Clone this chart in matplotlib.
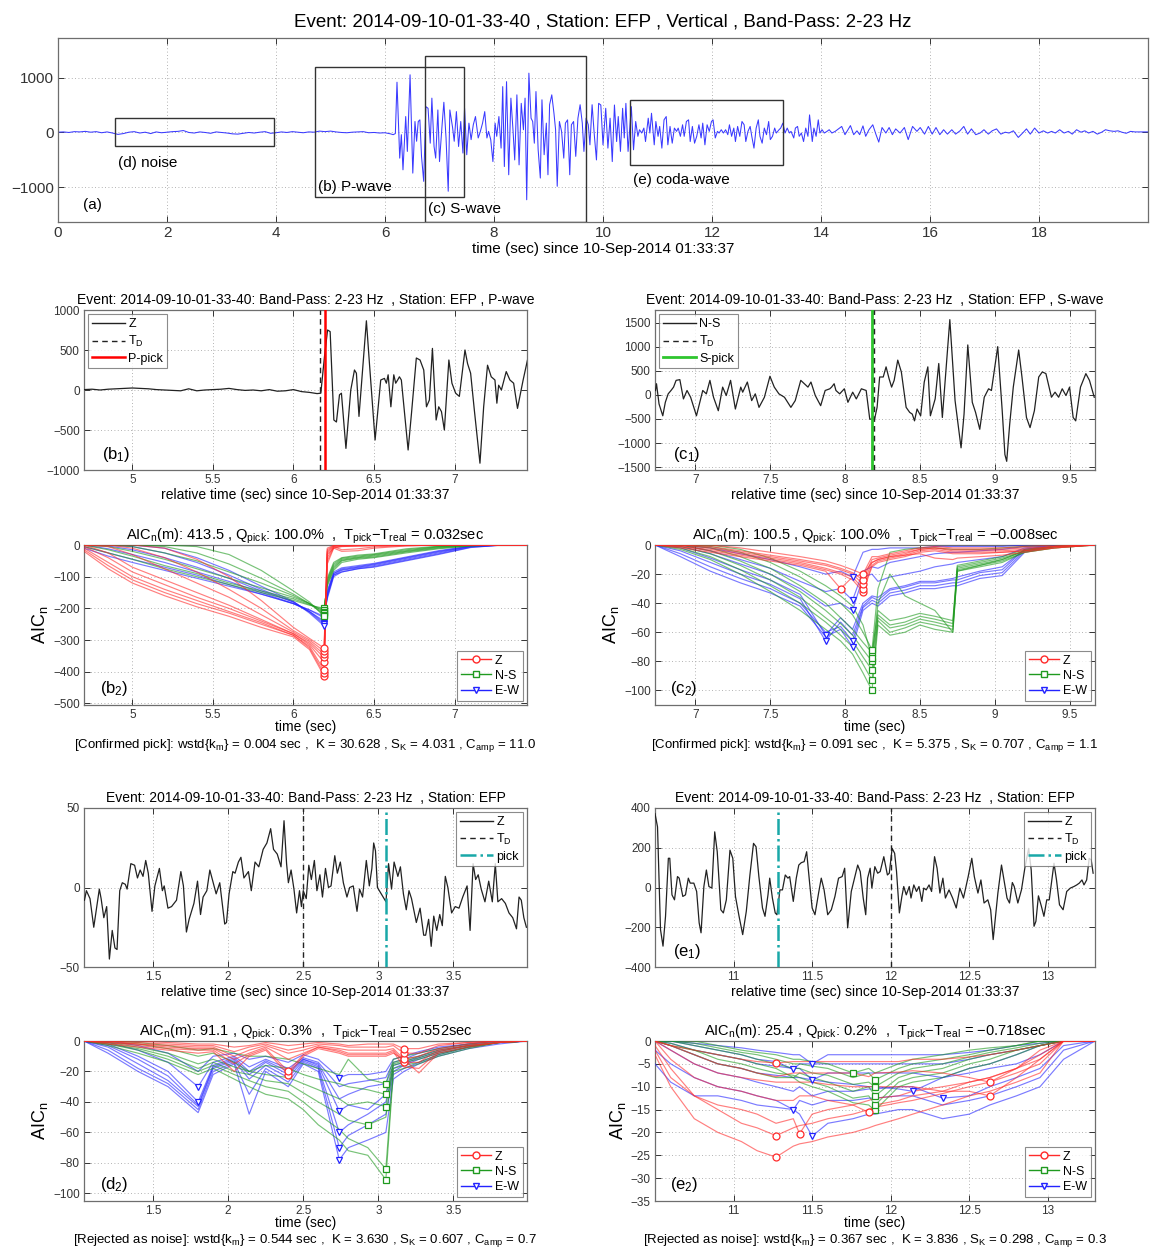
import numpy as np
import matplotlib
matplotlib.use('Agg')
import matplotlib.pyplot as plt
from matplotlib.lines import Line2D
from matplotlib.patches import Rectangle
from matplotlib.ticker import FuncFormatter

plt.rcParams['font.family'] = ['Liberation Sans', 'DejaVu Sans']
plt.rcParams['mathtext.fontset'] = 'custom'
plt.rcParams['mathtext.rm'] = 'Liberation Sans'
plt.rcParams['mathtext.it'] = 'Liberation Sans:italic'
plt.rcParams['mathtext.default'] = 'regular'

# ---------------- DATA ----------------
# Panel (a): full vertical record (time s, amplitude)
a_noise_t = [0.0, 0.1, 0.2, 0.3, 0.4, 0.5, 0.6, 0.7, 0.8, 0.9, 1.0, 1.1, 1.2, 1.3, 1.4, 1.5, 1.6, 1.7, 1.8, 1.9,
             2.0, 2.1, 2.2, 2.3, 2.4, 2.5, 2.6, 2.7, 2.8, 2.9, 3.0, 3.1, 3.2, 3.3, 3.4, 3.5, 3.6, 3.7, 3.8, 3.9,
             4.0, 4.1, 4.2, 4.3, 4.4, 4.5, 4.6, 4.7, 4.8, 4.9, 5.0, 5.1, 5.2, 5.3, 5.4, 5.5, 5.6, 5.7, 5.8, 5.9,
             6.0, 6.1, 6.15, 6.19]
a_noise_v = [5, 10, 0, 15, 10, 20, 5, 15, -5, 10, -10, -35, -20, 5, 15, -10, 5, -20, 10, -5,
             5, 15, 20, 35, 0, -10, 10, 0, -15, 10, 0, -10, -25, -30, -15, 0, -10, 5, 15, -15,
             -5, 10, 0, 15, 5, -5, 10, 5, 25, 15, 25, 10, 0, -5, 5, 10, 15, -5, 0, -10,
             -5, -25, -40, -20]
a_sig_t = [6.22, 6.27, 6.30, 6.33, 6.38, 6.41, 6.46, 6.51, 6.55, 6.58, 6.61, 6.64, 6.67, 6.71, 6.75, 6.79, 6.83,
           6.86, 6.90, 6.93, 6.97, 7.00, 7.05, 7.08, 7.12, 7.16, 7.19, 7.24, 7.27, 7.31, 7.35, 7.39, 7.43, 7.46,
           7.50, 7.54, 7.58, 7.62, 7.66, 7.71, 7.75, 7.79, 7.83, 7.87, 7.90, 7.94, 7.98, 8.02, 8.05, 8.09, 8.13,
           8.16, 8.19, 8.23, 8.27, 8.31, 8.35, 8.38, 8.42, 8.46, 8.50, 8.54, 8.57, 8.60, 8.64, 8.68, 8.71, 8.74,
           8.77, 8.81, 8.85, 8.88, 8.92, 8.96, 8.99, 9.02, 9.06, 9.10, 9.13, 9.16, 9.20, 9.24, 9.28, 9.31, 9.35,
           9.39, 9.42, 9.46, 9.50, 9.54, 9.58, 9.62, 9.65, 9.69, 9.73, 9.76, 9.80, 9.84, 9.88, 9.92,
           9.96, 10.0, 10.05, 10.09, 10.13, 10.17, 10.21, 10.25, 10.28, 10.32, 10.36, 10.39, 10.42, 10.46, 10.52,
           10.56, 10.60, 10.64, 10.67, 10.71, 10.75, 10.78, 10.83, 10.86, 10.89, 10.94, 10.97, 11.01, 11.04, 11.08,
           11.12, 11.16, 11.19, 11.23, 11.27, 11.31, 11.35, 11.38, 11.42, 11.46, 11.49, 11.53, 11.57, 11.60, 11.64,
           11.68, 11.72, 11.76, 11.80, 11.83, 11.87, 11.91, 11.95, 11.99, 12.02, 12.06, 12.10, 12.13, 12.17, 12.21,
           12.25, 12.29, 12.32, 12.36, 12.40, 12.43, 12.47, 12.51, 12.55, 12.59, 12.62, 12.66, 12.70, 12.73, 12.77,
           12.81, 12.85, 12.88, 12.92, 12.96, 13.0, 13.04, 13.07, 13.11, 13.15, 13.18, 13.23, 13.26, 13.30, 13.34,
           13.38, 13.42, 13.45, 13.50, 13.53, 13.57, 13.60, 13.64, 13.68, 13.72, 13.76, 13.79, 13.84, 13.87, 13.91,
           13.95, 13.98, 14.02, 14.06, 14.11, 14.15, 14.20, 14.26,
           14.38, 14.44, 14.54, 14.60, 14.66, 14.71, 14.77, 14.82, 14.88, 14.95, 15.01, 15.06, 15.12, 15.19, 15.25,
           15.31, 15.37, 15.45, 15.53, 15.60, 15.68, 15.76, 15.82, 15.90, 15.97, 16.04, 16.11, 16.18, 16.25, 16.32,
           16.40, 16.47, 16.55, 16.62, 16.69, 16.76, 16.84, 16.92, 16.99, 17.07, 17.14, 17.22, 17.30, 17.38, 17.45,
           17.53, 17.62, 17.70, 17.77, 17.84, 17.92, 18.0, 18.08, 18.16, 18.23, 18.30, 18.38, 18.46, 18.54, 18.61,
           18.69, 18.77, 18.84, 18.91, 18.99, 19.07, 19.15, 19.22, 19.30, 19.38, 19.45, 19.52, 19.60, 19.68, 19.76,
           19.94, 20.0]
a_sig_v = [915, -467, -40, -680, 290, -345, 1050, -740, 200, -160, 200, 230, -435, -890, 470, 440, -195,
           625, -255, -467, 410, -530, 170, 550, -100, -1070, 410, 90, -160, 380, -255, 200, -375, 440,
           -405, 170, -130, 140, 290, -100, 20, 170, 380, -100, 20, -130, -530, 170, -70, 290, -285,
           835, -620, 925, -770, 625, 20, -500, 685, -590, 530, 50, 625, -1225, 1080, 260, 200, -195,
           745, -315, -830, 595, -405, 170, -770, 505, 685, 350, 50, -980, 200, 20, -467, 170, 230,
           -770, 140, 200, -435, 260, 505, 170, -345, 260, 140, -225, 505, -40, -500, 530,
           500, -225, 440, -285, 260, -530, 500, -165, 290, -345, 440, -100, 530, -345, 470,
           -315, 200, -70, 50, -10, 80, -165, 260, -10, 350, -225, 200, -70, 110, -285,
           230, 290, -225, 110, -195, 80, 20, 80, -70, 140, -70, 200, 230, -165, 110,
           -195, -70, 140, -100, 170, -225, 140, 20, 200, 230, -100, 20, -10, 50, -10,
           50, -40, 140, -70, 80, -165, 110, -70, 200, 140, -165, 20, 110, -70, -285,
           80, 230, -70, -195, 80, -40, 200, -130, -70, 80, -10, 50, 80, 170, -10,
           80, -10, 20, -100, 80, 110, -70, -10, -165, 80, -70, 320, -165, 80, -70,
           230, -10, 50, -10, 20, 50, -10, 20,
           110, -40, 125, -40, 30, -40, 120, -70, 50, 140, -40, -175, 90, -10, 90,
           -40, 65, -10, 90, -130, 110, 20, 90, -30, 110, -30, 90, -40, 50, -30,
           50, -30, 30, 110, -30, 65, -40, -10, 50, -30, 30, 65, -30, 5, -10,
           30, -90, -10, 65, -30, 80, -10, 30, -10, 20, -10, 50, -10, 20, -30,
           50, 5, 30, -10, 20, -30, 5, 50, 30, 20, 30, 5, -15, 20, 10,
           10, 10]

# Windows marked on panel (a): (start, end, low, high)
win_noise = (1.05, 3.97, -250, 260)
win_p = (4.72, 7.45, -1170, 1185)
win_s = (6.73, 9.68, -1630, 1400)
win_coda = (10.5, 13.3, -600, 600)

# (b1) Z component around the P onset
b1_t = [4.70, 4.75, 4.80, 4.85, 4.90, 4.95, 5.00, 5.05, 5.10, 5.15, 5.20, 5.25, 5.30, 5.35, 5.40, 5.45, 5.50,
        5.55, 5.60, 5.65, 5.70, 5.75, 5.80, 5.85, 5.90, 5.95, 6.00, 6.05, 6.10, 6.147, 6.170,
        6.193, 6.212, 6.228, 6.251, 6.267, 6.286, 6.298, 6.326, 6.356, 6.379, 6.391, 6.407, 6.453, 6.472,
        6.507, 6.542, 6.565, 6.577, 6.588, 6.605, 6.623, 6.635, 6.647, 6.658, 6.670, 6.712, 6.733, 6.763,
        6.786, 6.809, 6.826, 6.844, 6.863, 6.886, 6.902, 6.919, 6.937, 6.965, 6.984, 7.007, 7.030, 7.065,
        7.081, 7.100, 7.123, 7.158, 7.181, 7.205, 7.228, 7.251, 7.263, 7.274, 7.291, 7.321, 7.344, 7.367,
        7.391, 7.426, 7.453]
b1_v = [5, 10, 0, 10, 15, 20, 25, 20, 15, 5, 0, -5, -10, 15, -10, 0, 5,
        10, 20, 5, -5, 0, -10, 5, -15, -10, 5, -20, -30, -45, -40,
        420, 750, 730, -375, -400, -60, -40, -730, 0, 250, 210, -330, 865, 330,
        -625, 125, 145, 85, 190, -210, 190, 85, 125, 165, 125, -750, -290, 400,
        375, 250, -210, -125, 520, -375, -210, -270, -500, 375, 85, -40, -80, 500,
        330, 210, -250, -915, -210, 310, 165, 125, -165, 60, 0, 230, 125, 85,
        -230, 125, 375]
b1_td, b1_pick = 6.165, 6.195

# (c1) N-S component around the S onset
c1_t = [6.733, 6.740, 6.757, 6.782, 6.799, 6.818, 6.837, 6.854, 6.871, 6.896, 6.920, 6.944, 6.968, 7.007,
        7.049, 7.073, 7.097, 7.121, 7.153, 7.182, 7.206, 7.235, 7.267, 7.303, 7.316, 7.347, 7.376, 7.400,
        7.425, 7.461, 7.498, 7.527, 7.558, 7.595, 7.638, 7.667, 7.704, 7.728, 7.752, 7.772, 7.801, 7.837,
        7.867, 7.898, 7.910, 7.927, 7.939, 7.964, 7.995, 8.019, 8.051, 8.075, 8.109, 8.141, 8.165, 8.197,
        8.214, 8.231, 8.255, 8.274, 8.294, 8.311, 8.328, 8.352, 8.376, 8.408, 8.432, 8.449, 8.464, 8.481,
        8.505, 8.529, 8.553, 8.570, 8.602, 8.626, 8.650, 8.700, 8.735, 8.775, 8.795, 8.820, 8.850, 8.872,
        8.900, 8.930, 8.959, 8.978, 9.020, 9.050, 9.068, 9.080, 9.100, 9.124, 9.160, 9.182, 9.212, 9.236,
        9.265, 9.294, 9.318, 9.342, 9.379, 9.403, 9.427, 9.451, 9.476, 9.500, 9.524, 9.541, 9.573, 9.609,
        9.633, 9.665]
c1_v = [90, 230, -190, -435, -155, 20, 90, 160, 300, 315, -85, 90, -50, -435,
        90, 20, 300, -50, -330, 160, -15, 300, -295, 160, 55, 265, -120, 20,
        -260, -50, 385, 160, 20, -50, -260, -120, 300, 230, 160, 265, -15, -225,
        90, 125, 160, 230, 90, 20, 125, -155, 55, -85, 125, 90, -505, -505,
        -260, 370, 370, 580, 335, 160, 300, 720, 475, -260, -365, -400, -540, -295,
        -435, 265, 580, -435, -85, 650, -470, 1560, -120, -1100, -400, 1035, -155, -365,
        -715, -50, 125, 90, 1000, -330, -1240, -1380, -610, 160, 930, 370, -470, -680,
        -330, 370, 475, 440, -50, 55, -50, 125, -15, 160, -470, -540, 160, 440,
        300, -50]
c1_td, c1_pick = 8.19, 8.18

# (d1) Z component, noise window
d1_t = [1.043, 1.056, 1.080, 1.105, 1.122, 1.142, 1.154, 1.172, 1.191, 1.209, 1.228, 1.246, 1.260, 1.278,
        1.295, 1.315, 1.327, 1.352, 1.377, 1.396, 1.414, 1.433, 1.451, 1.468, 1.493, 1.512, 1.542, 1.562,
        1.574, 1.599, 1.623, 1.656, 1.685, 1.702, 1.722, 1.740, 1.772, 1.796, 1.816, 1.833, 1.858, 1.878,
        1.895, 1.920, 1.944, 1.977, 1.989, 2.006, 2.031, 2.046, 2.068, 2.085, 2.105, 2.135, 2.154, 2.179,
        2.204, 2.233, 2.258, 2.283, 2.302, 2.327, 2.352, 2.372, 2.389, 2.401, 2.419, 2.438, 2.456, 2.475,
        2.488, 2.500, 2.520, 2.537, 2.554, 2.574, 2.591, 2.611, 2.628, 2.648, 2.668, 2.685, 2.710, 2.727,
        2.747, 2.767, 2.791, 2.809, 2.833, 2.858, 2.875, 2.895, 2.920, 2.940, 2.957, 2.969, 2.981, 2.994,
        3.019, 3.051, 3.068, 3.088, 3.105, 3.130, 3.147, 3.167, 3.186, 3.204, 3.221, 3.253, 3.278, 3.302,
        3.315, 3.335, 3.352, 3.369, 3.389, 3.409, 3.426, 3.446, 3.463, 3.488, 3.512, 3.537, 3.562, 3.591,
        3.611, 3.631, 3.648, 3.665, 3.685, 3.710, 3.735, 3.759, 3.779, 3.796, 3.821, 3.846, 3.870, 3.895,
        3.920, 3.937, 3.952, 3.969, 3.986]
d1_v = [-8, -2, -7, -25, -14, -1, -7, -19, -12, -45, -27, -38, -39, -2,
        3, 2, -1, 15, 14, 6, 11, 7, 17, 9, -15, 1, 12, -2,
        1, -13, -12, -8, 10, 1, -28, -20, -10, 4, -17, -6, -2, 11,
        5, -4, 3, -23, -22, -4, 10, 9, 16, 19, 6, 10, -2, 16,
        13, 24, 28, 37, 24, 21, 13, 42, 15, 3, 11, -1, -16, -2,
        -12, -2, -7, 14, 5, 17, -2, 8, -6, 12, 0, 1, 20, 9,
        16, 3, -6, 0, 1, -15, -1, -6, 17, 1, 12, 28, 23, 0,
        -4, -9, 15, -1, 16, 7, 13, -4, -14, -2, -7, -22, -13, -30,
        -30, -20, -37, -18, -27, -17, -24, 7, 0, -16, -12, -13, -6, 1,
        -27, 15, 5, 8, -1, -9, 4, -9, 15, -9, -7, -10, -16, -19,
        -26, -6, -8, -19, -25]
d1_td, d1_pick = 2.5, 3.05

# (e1) Z component, coda window
e1_t = [10.500, 10.516, 10.535, 10.551, 10.567, 10.585, 10.594, 10.608, 10.624, 10.643, 10.654, 10.677,
        10.694, 10.712, 10.724, 10.747, 10.765, 10.781, 10.793, 10.811, 10.827, 10.843, 10.862, 10.880,
        10.896, 10.919, 10.935, 10.954, 10.977, 10.995, 11.012, 11.035, 11.058, 11.081, 11.104, 11.127,
        11.143, 11.161, 11.184, 11.200, 11.219, 11.230, 11.247, 11.265, 11.276, 11.295, 11.311, 11.329,
        11.346, 11.357, 11.380, 11.399, 11.415, 11.431, 11.449, 11.465, 11.484, 11.500, 11.518, 11.541,
        11.558, 11.576, 11.599, 11.622, 11.645, 11.668, 11.691, 11.707, 11.726, 11.749, 11.772, 11.790,
        11.806, 11.825, 11.841, 11.853, 11.869, 11.880, 11.899, 11.917, 11.933, 11.956, 11.979, 11.991,
        12.009, 12.025, 12.037, 12.055, 12.071, 12.083, 12.099, 12.118, 12.129, 12.147, 12.164, 12.180,
        12.198, 12.210, 12.226, 12.244, 12.260, 12.279, 12.295, 12.313, 12.332, 12.348, 12.371, 12.394,
        12.417, 12.440, 12.463, 12.493, 12.516, 12.532, 12.555, 12.574, 12.594, 12.618, 12.636, 12.652,
        12.671, 12.682, 12.705, 12.721, 12.740, 12.756, 12.774, 12.786, 12.809, 12.832, 12.855, 12.878,
        12.894, 12.912, 12.924, 12.940, 12.959, 12.975, 12.993, 13.009, 13.039, 13.055, 13.074, 13.097,
        13.120, 13.143, 13.166, 13.184, 13.200, 13.217, 13.230, 13.247, 13.263, 13.276, 13.288]
e1_v = [372, 305, -212, -295, -145, 147, 147, -37, -62, 55, 47, -45,
        -37, 47, 22, 22, -20, -178, -228, 5, 88, 5, -3, 280,
        180, -112, -128, -62, 188, 147, -45, -145, -237, -120, 63, 222,
        205, 55, -103, -145, -37, 47, -53, -128, -137, -12, -12, 63,
        47, 55, -70, 47, 113, 125, 130, 180, 22, -103, -137, -28,
        47, -12, -137, -112, -45, 47, 55, 97, -203, -20, 55, 113,
        80, -53, -137, 47, 97, -3, 105, 72, 80, 155, 63, 72,
        197, 172, 80, -128, -45, 5, -37, 5, -53, 13, -20, 5,
        -70, -3, -12, 13, -20, 155, 97, -28, 47, -53, -12, -53,
        -103, -3, -53, 55, 147, 55, -28, 38, -78, -62, -112, -262,
        -112, -28, 113, 38, -53, -78, 25, 5, -78, -12, 105, 197,
        88, -195, -170, -42, -95, -145, -62, -62, 122, 38, -87, -112,
        -20, -3, 5, 13, 22, 38, 13, 38, 147, 138, 72]
e1_pick, e1_td = 11.28, 12.0

# AIC_n curves (time knots shared per panel; one list per curve)
b2_t = [4.70, 4.85, 5.0, 5.2, 5.4, 5.6, 5.8, 6.0, 6.1, 6.19, 6.21, 6.25, 6.3, 6.4, 6.5, 6.7, 6.9, 7.1, 7.3, 7.45]
b2_Z = [[-20, -75, -120, -160, -195, -225, -260, -290, -330, -413, -60, -10, -5, -3, -2, -1, 0, 0, 0, 0],
        [-15, -65, -110, -150, -185, -215, -250, -285, -325, -405, -50, -8, -4, -3, -2, -1, 0, 0, 0, 0],
        [-10, -55, -100, -140, -175, -210, -245, -285, -320, -395, -40, -5, -3, -2, -1, 0, 0, 0, 0, 0],
        [-5, -40, -85, -125, -165, -200, -240, -280, -315, -370, -30, -10, -20, -18, -10, -3, 0, 0, 0, 0],
        [0, -25, -70, -110, -150, -190, -235, -280, -310, -355, -25, -5, -15, -12, -6, -2, 0, 0, 0, 0],
        [0, -5, -30, -75, -120, -165, -220, -275, -305, -345, -20, -3, -2, -1, 0, 0, 0, 0, 0, 0],
        [0, 0, -10, -40, -85, -140, -200, -270, -300, -335, -15, -2, -1, 0, 0, 0, 0, 0, 0, 0],
        [0, 0, 0, -10, -45, -100, -175, -260, -295, -325, -10, -1, 0, 0, 0, 0, 0, 0, 0, 0]]
b2_NS = [[-5, -25, -45, -75, -100, -125, -150, -175, -190, -200, -130, -80, -55, -45, -40, -25, -12, -3, 0, 0],
         [0, -15, -35, -65, -90, -120, -145, -170, -188, -205, -125, -75, -50, -42, -38, -22, -10, -2, 0, 0],
         [0, -5, -20, -45, -75, -105, -135, -165, -185, -210, -120, -70, -48, -40, -35, -20, -8, -2, 0, 0],
         [0, 0, -5, -25, -50, -85, -120, -160, -185, -215, -115, -65, -45, -38, -32, -18, -6, -1, 0, 0],
         [0, 0, 0, -5, -25, -60, -105, -155, -185, -220, -110, -60, -42, -35, -30, -15, -5, -1, 0, 0],
         [0, 0, 0, 0, -5, -30, -80, -145, -180, -225, -105, -55, -40, -32, -28, -12, -4, 0, 0, 0]]
b2_EW = [[-10, -35, -55, -80, -105, -130, -155, -185, -205, -225, -170, -100, -85, -75, -70, -50, -30, -8, 0, 0],
         [-5, -25, -45, -70, -95, -125, -155, -185, -205, -230, -165, -95, -85, -75, -68, -48, -28, -7, 0, 0],
         [0, -12, -30, -55, -85, -115, -150, -185, -210, -240, -160, -95, -80, -72, -65, -45, -25, -5, 0, 0],
         [0, -3, -15, -40, -70, -105, -145, -180, -210, -245, -155, -90, -78, -70, -62, -42, -22, -5, 0, 0],
         [0, 0, -5, -25, -55, -95, -140, -180, -212, -250, -150, -90, -75, -68, -60, -40, -20, -4, 0, 0],
         [0, 0, 0, -10, -40, -80, -130, -178, -215, -255, -145, -85, -72, -65, -58, -38, -18, -3, 0, 0]]

c2_t = [6.73, 6.9, 7.1, 7.3, 7.5, 7.7, 7.87, 7.97, 8.05, 8.12, 8.18, 8.22, 8.3, 8.4, 8.5, 8.6, 8.72, 8.75,
        8.9, 9.05, 9.2, 9.4, 9.67]
c2_Z = [[0, -2, -5, -8, -11, -14, -18, -30, -22, -20, -12, -10, -8, -7, -6, -9, -10, -9, -8, -7, -5, -2, 0],
        [0, -1, -4, -7, -10, -13, -17, -20, -24, -32, -15, -12, -10, -8, -5, -4, -6, -6, -6, -5, -4, -2, 0],
        [0, -1, -3, -6, -9, -12, -16, -19, -22, -30, -14, -11, -9, -7, -4, -3, -5, -5, -5, -5, -4, -1, 0],
        [0, 0, -2, -5, -8, -11, -14, -17, -20, -27, -12, -10, -8, -6, -3, -2, -4, -4, -4, -4, -3, -1, 0],
        [0, 0, -1, -4, -7, -10, -13, -16, -19, -24, -10, -9, -7, -5, -3, -2, -3, -3, -3, -3, -2, -1, 0],
        [0, 0, 0, -2, -5, -8, -11, -14, -17, -20, -8, -8, -6, -4, -2, -1, -2, -2, -2, -2, -1, 0, 0]]
c2_NS = [[0, -3, -10, -20, -32, -45, -58, -66, -75, -88, -100, -55, -62, -60, -55, -58, -60, -18, -15, -12, -5, -2, 0],
         [0, -2, -8, -17, -28, -40, -53, -62, -70, -82, -93, -52, -60, -57, -53, -55, -58, -17, -14, -11, -5, -2, 0],
         [0, -1, -6, -14, -24, -36, -50, -58, -66, -77, -86, -50, -57, -55, -51, -53, -56, -16, -13, -10, -4, -1, 0],
         [0, 0, -4, -11, -20, -32, -45, -54, -62, -72, -80, -48, -55, -53, -49, -51, -54, -15, -12, -9, -4, -1, 0],
         [0, 0, -2, -8, -16, -28, -40, -50, -58, -67, -74, -45, -52, -50, -47, -49, -52, -14, -11, -8, -3, -1, 0],
         [0, 0, -1, -5, -12, -22, -33, -40, -48, -60, -72, -30, -5, -3, -2, -2, -3, -3, -3, -2, -1, 0, 0],
         [0, 0, 0, -3, -9, -18, -28, -35, -42, -55, -78, -40, -20, -35, -40, -45, -60, -18, -14, -10, -4, -1, 0]]
c2_EW = [[0, -8, -18, -26, -33, -42, -63, -58, -70, -45, -40, -42, -35, -33, -30, -30, -28, -28, -23, -21, -5, -1, 0],
         [0, -6, -15, -23, -30, -40, -60, -56, -66, -43, -38, -40, -33, -31, -28, -28, -26, -26, -21, -19, -4, -1, 0],
         [0, -4, -12, -20, -27, -37, -66, -53, -62, -42, -36, -38, -31, -29, -26, -26, -24, -24, -19, -17, -3, -1, 0],
         [0, -2, -9, -17, -24, -34, -62, -50, -58, -40, -35, -36, -30, -28, -25, -25, -23, -22, -18, -15, -3, 0, 0],
         [0, -1, -6, -13, -20, -30, -42, -40, -45, -22, -20, -25, -22, -20, -18, -15, -13, -12, -10, -8, -2, 0, 0],
         [0, 0, -4, -10, -16, -25, -32, -30, -38, -18, -15, -16, -12, -10, -8, -6, -5, -5, -4, -3, -1, 0, 0],
         [0, 0, -2, -6, -10, -15, -20, -18, -22, -5, -3, -3, -2, -2, -2, -1, -1, -1, -1, -1, 0, 0, 0]]

d2_t = [1.04, 1.2, 1.4, 1.6, 1.8, 1.9, 2.04, 2.14, 2.25, 2.4, 2.5, 2.6, 2.74, 2.8, 2.93, 3.05, 3.1, 3.17, 3.27,
        3.4, 3.6, 3.8, 3.99]
d2_Z = [[0, -2, -4, -6, -8, -7, -20, -10, -6, -22, -10, -5, -8, -10, -10, -10, -8, -12, -21, -8, -4, -1, 0],
        [0, -1, -3, -5, -6, -6, -15, -9, -5, -20, -9, -4, -7, -9, -9, -9, -7, -17, -18, -7, -3, -1, 0],
        [0, -1, -2, -4, -5, -5, -12, -8, -4, -12, -8, -4, -6, -8, -8, -8, -6, -14, -14, -6, -3, -1, 0],
        [0, 0, -2, -3, -4, -4, -10, -6, -3, -8, -6, -3, -5, -6, -6, -6, -5, -12, -10, -5, -2, 0, 0],
        [0, 0, -1, -2, -3, -3, -7, -4, -2, -6, -4, -2, -3, -4, -4, -4, -3, -8, -8, -3, -1, 0, 0],
        [0, 0, 0, -1, -2, -2, -4, -3, -1, -3, -2, -1, -2, -3, -2, -2, -2, -5, -5, -2, -1, 0, 0]]
d2_NS = [[0, -3, -8, -14, -22, -18, -25, -30, -35, -38, -45, -55, -65, -72, -75, -91, -20, -18, -15, -10, -5, -1, 0],
         [0, -2, -6, -12, -20, -16, -22, -26, -30, -33, -40, -48, -58, -64, -70, -84, -18, -16, -14, -9, -4, -1, 0],
         [0, -2, -5, -10, -18, -14, -20, -22, -26, -28, -34, -40, -48, -52, -55, -50, -16, -14, -12, -8, -4, -1, 0],
         [0, -1, -4, -8, -15, -12, -17, -20, -22, -24, -28, -32, -38, -42, -40, -43, -15, -13, -11, -7, -3, -1, 0],
         [0, -1, -2, -5, -10, -8, -14, -20, -16, -18, -22, -25, -28, -30, -32, -35, -14, -12, -10, -6, -3, -1, 0],
         [0, 0, -1, -3, -6, -5, -8, -10, -10, -12, -15, -18, -22, -12, -25, -28, -12, -10, -8, -5, -2, 0, 0]]
d2_EW = [[0, -8, -20, -30, -47, -22, -15, -48, -20, -30, -15, -20, -78, -70, -65, -60, -25, -20, -15, -10, -5, -2, 0],
         [0, -6, -18, -28, -45, -20, -14, -35, -18, -27, -14, -18, -70, -62, -55, -48, -22, -18, -14, -9, -4, -1, 0],
         [0, -4, -15, -26, -43, -18, -13, -25, -16, -24, -13, -17, -60, -55, -48, -40, -20, -16, -12, -8, -4, -1, 0],
         [0, -3, -12, -23, -42, -17, -12, -22, -14, -22, -12, -16, -46, -42, -45, -35, -18, -15, -11, -7, -3, -1, 0],
         [0, -2, -10, -20, -40, -16, -11, -20, -13, -20, -12, -15, -38, -35, -30, -28, -16, -14, -10, -6, -3, -1, 0],
         [0, -1, -6, -14, -30, -14, -10, -17, -12, -18, -11, -14, -30, -28, -26, -24, -14, -12, -8, -5, -2, 0, 0],
         [0, 0, -3, -8, -20, -10, -8, -12, -10, -14, -9, -12, -24, -22, -22, -20, -12, -10, -7, -4, -2, 0, 0]]

e2_t = [10.5, 10.6, 10.75, 10.9, 11.05, 11.15, 11.27, 11.38, 11.42, 11.5, 11.6, 11.76, 11.86, 11.9, 12.05,
        12.14, 12.33, 12.5, 12.63, 12.8, 12.95, 13.1, 13.3]
e2_Z = [[-3, -10, -17, -20, -22, -24, -25.4, -23, -22.5, -22, -21, -20, -19, -18.5, -17, -16, -14, -12, -11, -9, -7, 0, 0],
        [-2, -8, -12, -15, -18, -19, -20.7, -19, -18.5, -18, -17, -16, -15, -14.5, -13.5, -13, -11.5, -10, -9, -7, -5, 0, 0],
        [-1, -6, -12, -14, -15, -16, -18, -17, -20.3, -16, -15, -14, -13, -12.5, -12, -11, -10, -9, -8, -6, -4, 0, 0],
        [0, -4, -8, -10, -11, -12, -13, -13, -12, -12, -13, -14, -15.6, -14, -13, -12, -11, -9, -8, -6, -3, 0, 0],
        [0, -2, -5, -7, -8, -8.5, -9, -9, -9, -9, -9.5, -10, -10, -10, -10, -10, -11, -11, -12, -8, -4, 0, 0],
        [0, -1, -3, -5, -6, -7, -7.8, -7, -7, -7, -7, -7, -7.8, -7, -6.8, -6.5, -7, -8, -9, -6, -2, 0, 0],
        [0, -1, -2, -3, -4, -4.5, -4.8, -4.5, -4.5, -4.5, -4.5, -4.5, -4.5, -4.5, -4.5, -4, -4, -3.5, -3, -2, -1, 0, 0]]
e2_NS = [[0, -1, -3, -5, -6, -7, -8, -8, -9, -10, -11, -13.5, -14, -15.2, -10, -9, -8, -6, -5, -3, -1, 0, 0],
         [0, -1, -2, -4, -5, -6, -7, -7.5, -8, -9, -10, -12.5, -12, -14, -9, -8, -7, -5, -4, -2, -1, 0, 0],
         [0, -0.5, -2, -3, -4, -5, -6, -8, -7, -8, -9, -11, -10, -12, -8, -7, -6, -4, -3, -2, -1, 0, 0],
         [0, 0, -1, -2, -3, -4, -5, -6, -6, -7, -7.5, -9.5, -9, -10, -7, -6, -5, -3.5, -2.5, -1.5, -0.5, 0, 0],
         [0, 0, -0.5, -1.5, -2.5, -3, -4, -5, -5, -5.5, -6, -8, -7, -8.5, -6, -5, -4, -3, -2, -1, 0, 0, 0],
         [0, 0, 0, -1, -2, -2.5, -3, -4, -4, -4.5, -5, -7, -6, -7, -5, -4, -3, -2, -1.5, -1, 0, 0, 0]]
e2_EW = [[-5, -9, -12, -12, -13, -14, -14.5, -15, -16, -20.8, -18, -17, -16, -16, -15, -15, -17, -16, -14, -12, -10, -4, 0],
         [-2, -5, -8, -10, -11, -12, -13, -15, -13, -14, -13, -13, -12.5, -12.5, -12, -12, -14, -13, -12, -10, -8, -2, 0],
         [0, -2, -5, -7, -8, -9, -10, -11, -10, -12, -11, -11, -10.5, -10.5, -10, -10, -12.5, -12, -10, -8, -6, -1, 0],
         [0, -1, -3, -5, -6, -7, -7.5, -8, -8, -8.5, -9, -9.5, -10, -10, -10.5, -11, -8, -7, -6, -5, -3, 0, 0],
         [0, -0.5, -2, -3, -4, -5, -5.5, -6, -6, -8.5, -7, -7, -7, -7, -7, -7, -8, -6, -5, -3, -1, 0, 0],
         [0, 0, -1, -2, -3, -4, -4.5, -6.2, -5, -5, -5, -5, -5, -5, -5, -5, -5, -4, -3, -2, -1, 0, 0],
         [0, 0, -0.5, -1, -1.5, -2, -2.5, -3, -3, -5, -3, -3, -3, -3, -3, -3, -3, -2.5, -2, -1, -0.5, 0, 0]]

# ---------------- FIGURE ----------------
W, H = 1151, 1252
fig = plt.figure(figsize=(W / 100, H / 100), dpi=100)
fig.patch.set_facecolor('white')

def axes_px(l, t, r, b):
    return fig.add_axes([l / W, 1 - b / H, (r - l) / W, (b - t) / H])

FRAME = '#6e6e6e'
TICKFMT = FuncFormatter(lambda v, p: ('%g' % v).replace('-', '\u2212'))

def style(ax, fs=8.5):
    for s in ax.spines.values():
        s.set_color(FRAME)
        s.set_linewidth(0.9)
    ax.tick_params(direction='in', top=True, right=True, length=4, width=0.7, colors='#333333',
                   labelsize=fs, pad=3)
    ax.grid(True, linestyle=(0, (1, 3)), color='#9a9a9a', linewidth=0.6)
    ax.set_axisbelow(True)
    ax.xaxis.set_major_formatter(TICKFMT)
    ax.yaxis.set_major_formatter(TICKFMT)

CR, CG, CB = '#ff2a2a', '#1f9a1f', '#2323ff'
TEAL = '#19a8a8'

EVT = 'Event: 2014-09-10-01-33-40'
RELX = 'relative time (sec) since 10-Sep-2014 01:33:37'

# ---- panel (a)
ax = axes_px(58, 38, 1148, 222)
style(ax, fs=11)
ta = a_noise_t + a_sig_t
va = a_noise_v + a_sig_v
ax.plot(ta, va, color='#3a3aff', lw=0.75)
ax.set_xlim(0, 20)
ax.set_ylim(-1630, 1720)
ax.set_xticks([0, 2, 4, 6, 8, 10, 12, 14, 16, 18])
ax.set_yticks([-1000, 0, 1000])
for (x0, x1, y0, y1) in [win_noise, win_p, win_s, win_coda]:
    ax.add_patch(Rectangle((x0, y0), x1 - x0, y1 - y0, fill=False, ec='#333333', lw=1.0, zorder=3))
ax.text(win_noise[0] + 0.05, -420, '(d) noise', fontsize=11, va='top')
ax.text(win_p[0] + 0.05, -1000, '(b) P-wave', fontsize=11, va='center')
ax.text(win_s[0] + 0.05, -1400, '(c) S-wave', fontsize=11, va='center')
ax.text(win_coda[0] + 0.05, -860, '(e) coda-wave', fontsize=11, va='center')
ax.text(0.45, -1320, '(a)', fontsize=11, va='center')
ax.set_xlabel('time (sec) since 10-Sep-2014 01:33:37', fontsize=11, labelpad=1)
ax.set_title(EVT + ' , Station: EFP , Vertical , Band-Pass: 2-23 Hz', fontsize=13.5, pad=8)

# ---- waveform sub-panels
def wave_panel(box, t, v, xlim, ylim, xt, yt, title, label, lines, leg_loc, leg_labels):
    ax = axes_px(*box)
    style(ax)
    ax.plot(t, v, color='#222222', lw=0.9, zorder=3)
    handles = [Line2D([], [], color='#222222', lw=1)]
    for (x, kind) in lines:
        if kind == 'td':
            ax.axvline(x, color='#222222', lw=1.0, ls=(0, (4, 3)), zorder=5)
            handles.append(Line2D([], [], color='#222222', lw=1, ls=(0, (4, 3))))
        else:
            col, ls, lw = kind
            ax.axvline(x, color=col, lw=lw, ls=ls, zorder=4)
            handles.append(Line2D([], [], color=col, lw=lw, ls=ls))
    order = [0] + [i + 1 for i, (x, k) in enumerate(lines) if k == 'td'] + \
            [i + 1 for i, (x, k) in enumerate(lines) if k != 'td']
    hs = [handles[i] for i in order]
    leg = ax.legend(hs, leg_labels, loc=leg_loc, fontsize=9, frameon=True, fancybox=False,
                    edgecolor=FRAME, handlelength=2.6, borderpad=0.3, labelspacing=0.3,
                    handletextpad=0.3, borderaxespad=0.35)
    leg.get_frame().set_linewidth(0.8)
    leg.set_zorder(10)
    ax.set_xlim(*xlim)
    ax.set_ylim(*ylim)
    ax.set_xticks(xt)
    ax.set_yticks(yt)
    ax.set_title(title, fontsize=10, pad=4)
    ax.set_xlabel(RELX, fontsize=10, labelpad=1)
    if label:
        ax.text(0.04, 0.1, label, transform=ax.transAxes, fontsize=12, va='center')
    return ax

wave_panel((84, 310, 527, 470), b1_t, b1_v, (4.7, 7.45), (-1000, 1000), [5, 5.5, 6, 6.5, 7],
           [-1000, -500, 0, 500, 1000],
           EVT + ': Band-Pass: 2-23 Hz  , Station: EFP , P-wave', '(b$_1$)',
           [(b1_td, 'td'), (b1_pick, ('#ff0000', '-', 1.8))], 'upper left', ['Z', 'T$_D$', 'P-pick'])
wave_panel((655, 310, 1095, 470), c1_t, c1_v, (6.73, 9.67), (-1560, 1760),
           [7, 7.5, 8, 8.5, 9, 9.5], [-1500, -1000, -500, 0, 500, 1000, 1500],
           EVT + ': Band-Pass: 2-23 Hz  , Station: EFP , S-wave', '(c$_1$)',
           [(c1_pick, ('#2ec52e', '-', 2.0)), (c1_td, 'td')], 'upper left', ['N-S', 'T$_D$', 'S-pick'])
wave_panel((84, 808, 527, 967), d1_t, d1_v, (1.04, 3.99), (-50, 50), [1.5, 2, 2.5, 3, 3.5],
           [-50, 0, 50], EVT + ': Band-Pass: 2-23 Hz  , Station: EFP', None,
           [(d1_td, 'td'), (d1_pick, (TEAL, '-.', 1.8))], 'upper right', ['Z', 'T$_D$', 'pick'])
wave_panel((655, 808, 1095, 967), e1_t, e1_v, (10.5, 13.3), (-400, 400), [11, 11.5, 12, 12.5, 13],
           [-400, -200, 0, 200, 400], EVT + ': Band-Pass: 2-23 Hz  , Station: EFP', '(e$_1$)',
           [(e1_pick, (TEAL, '-.', 1.8)), (e1_td, 'td')], 'upper right', ['Z', 'T$_D$', 'pick'])

# ---- AIC sub-panels
def aic_panel(box, t, Z, NS, EW, xlim, ylim, xt, yt, title, label, caption, cap_y):
    ax = axes_px(*box)
    style(ax)
    for curves, col, mk in [(EW, CB, 'v'), (NS, CG, 's'), (Z, CR, 'o')]:
        for c in curves:
            ax.plot(t, c, color=col, lw=0.85, alpha=0.6, zorder=3)
        for c in curves:
            k = int(np.argmin(c))
            ax.plot(t[k], c[k], ls='none', marker=mk, ms=5, mfc='white', mec=col, mew=0.9, zorder=4)
    hs = [Line2D([], [], color=CR, marker='o', mfc='white', ms=5, lw=1),
          Line2D([], [], color=CG, marker='s', mfc='white', ms=4, lw=1),
          Line2D([], [], color=CB, marker='v', mfc='white', ms=5, lw=1)]
    leg = ax.legend(hs, ['Z', 'N-S', 'E-W'], loc='lower right', fontsize=9, fancybox=False,
                    edgecolor=FRAME, handlelength=2.4, borderpad=0.3, labelspacing=0.25,
                    handletextpad=0.3, borderaxespad=0.35)
    leg.get_frame().set_linewidth(0.8)
    leg.set_zorder(10)
    ax.set_xlim(*xlim)
    ax.set_ylim(*ylim)
    ax.set_xticks(xt)
    ax.set_yticks(yt)
    ax.set_title(title, fontsize=10.5, pad=4)
    ax.set_xlabel('time (sec)', fontsize=10, labelpad=-1)
    ax.set_ylabel('AIC$_n$', fontsize=13, labelpad=2)
    ax.text(0.035, 0.1, label, transform=ax.transAxes, fontsize=12, va='center')
    xc = (box[0] + box[2]) / 2 / W
    fig.text(xc, 1 - cap_y / H, caption, ha='center', va='center', fontsize=9.5)
    return ax

aic_panel((84, 545, 527, 705), b2_t, b2_Z, b2_NS, b2_EW, (4.7, 7.45), (-505, 0), [5, 5.5, 6, 6.5, 7],
          [-500, -400, -300, -200, -100, 0],
          'AIC$_n$(m): 413.5 , Q$_{pick}$: 100.0%  ,  T$_{pick}$\u2212T$_{real}$ = 0.032sec', '(b$_2$)',
          '[Confirmed pick]: wstd{k$_m$} = 0.004 sec ,  K = 30.628 , S$_K$ = 4.031 , C$_{amp}$ = 11.0', 745)
aic_panel((655, 545, 1095, 705), c2_t, c2_Z, c2_NS, c2_EW, (6.73, 9.67), (-110, 0),
          [7, 7.5, 8, 8.5, 9, 9.5], [-100, -80, -60, -40, -20, 0],
          'AIC$_n$(m): 100.5 , Q$_{pick}$: 100.0%  ,  T$_{pick}$\u2212T$_{real}$ = \u22120.008sec', '(c$_2$)',
          '[Confirmed pick]: wstd{k$_m$} = 0.091 sec ,  K = 5.375 , S$_K$ = 0.707 , C$_{amp}$ = 1.1', 745)
aic_panel((84, 1041, 527, 1201), d2_t, d2_Z, d2_NS, d2_EW, (1.04, 3.99), (-105, 0),
          [1.5, 2, 2.5, 3, 3.5], [-100, -80, -60, -40, -20, 0],
          'AIC$_n$(m): 91.1 , Q$_{pick}$: 0.3%  ,  T$_{pick}$\u2212T$_{real}$ = 0.552sec', '(d$_2$)',
          '[Rejected as noise]: wstd{k$_m$} = 0.544 sec ,  K = 3.630 , S$_K$ = 0.607 , C$_{amp}$ = 0.7', 1241)
aic_panel((655, 1041, 1095, 1201), e2_t, e2_Z, e2_NS, e2_EW, (10.5, 13.3), (-35, 0),
          [11, 11.5, 12, 12.5, 13], [-35, -30, -25, -20, -15, -10, -5, 0],
          'AIC$_n$(m): 25.4 , Q$_{pick}$: 0.2%  ,  T$_{pick}$\u2212T$_{real}$ = \u22120.718sec', '(e$_2$)',
          '[Rejected as noise]: wstd{k$_m$} = 0.367 sec ,  K = 3.836 , S$_K$ = 0.298 , C$_{amp}$ = 0.3', 1241)

fig.savefig('out.png', dpi=100, facecolor='white')
